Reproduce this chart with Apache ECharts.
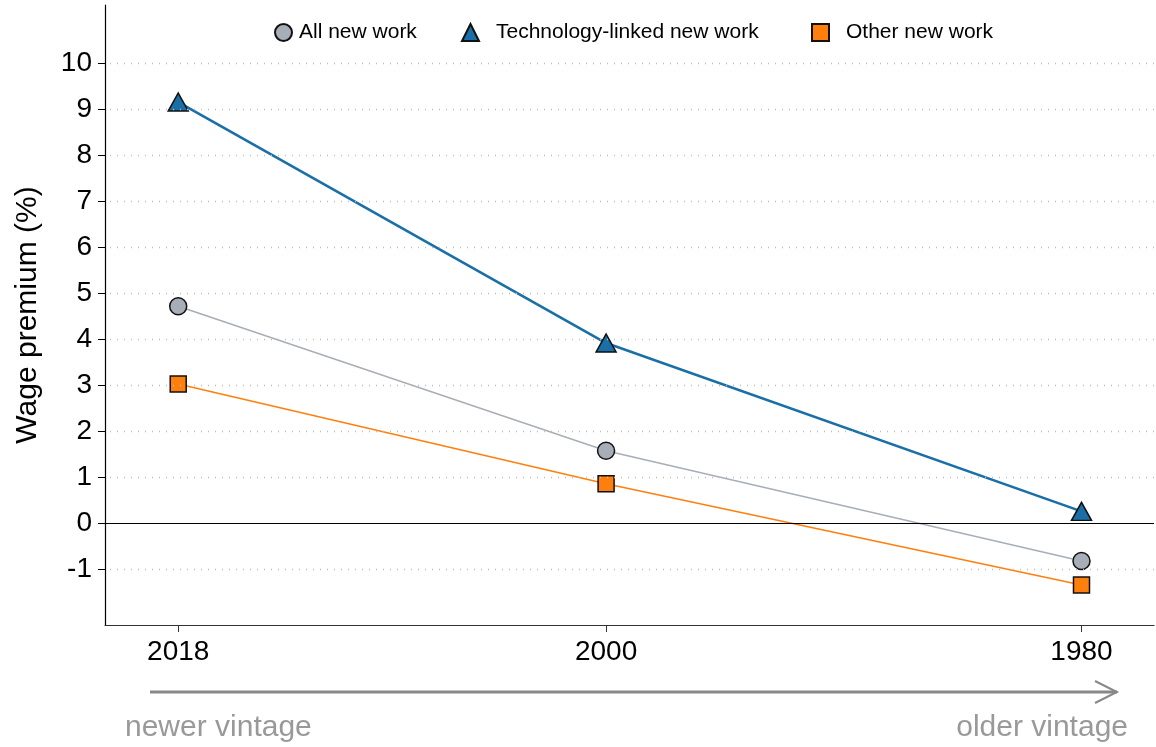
<!DOCTYPE html>
<html><head><meta charset="utf-8">
<script src="https://cdn.jsdelivr.net/npm/echarts@6/dist/echarts.min.js"></script>
<style>html,body{margin:0;padding:0;background:#fff}#c{width:1156px;height:747px}</style>
</head><body><div id="c"></div>
<script>
const years = [2018, 2000, 1980];
const seriesNames = ['All new work', 'Technology-linked new work', 'Other new work'];
const allNew = [4.72, 1.58, -0.82];
const techNew = [9.16, 3.92, 0.26];
const otherNew = [3.03, 0.86, -1.34];
const yTicks = [-1, 0, 1, 2, 3, 4, 5, 6, 7, 8, 9, 10];
const xTicks = [2018, 2000, 1980];

const FONT = '"Liberation Sans", Arial, sans-serif';
const pairs = arr => years.map((y, i) => [y, arr[i]]);

const legendBase = (name, icon, left, pad) => ({
  top: 17, left: left, itemWidth: 17, itemHeight: 17,
  textStyle: { fontSize: 21, color: '#000', fontFamily: FONT, padding: [0, 0, 0, pad] },
  data: [{ name: name, icon: icon }]
});

const chart = echarts.init(document.getElementById('c'));
chart.setOption({
  animation: false,
  textStyle: { fontFamily: FONT },
  grid: { left: 105, right: 2, top: 5, bottom: 122, containLabel: false, outerBoundsMode: 'none' },
  legend: [
    legendBase(seriesNames[0], 'circle', 269, 2),
    legendBase(seriesNames[1], 'triangle', 456, 12),
    legendBase(seriesNames[2], 'rect', 806, 12)
  ],
  xAxis: {
    type: 'value', inverse: true, min: 1976.95, max: 2021.08,
    axisLine: { onZero: false, lineStyle: { color: '#333', width: 1.2 } },
    axisTick: { show: true, length: 7, customValues: xTicks, lineStyle: { color: '#333' } },
    axisLabel: { customValues: xTicks, fontSize: 28, color: '#000', margin: 13, fontFamily: FONT, formatter: v => String(v) },
    splitLine: { show: false }
  },
  yAxis: {
    type: 'value', min: -2.21, max: 11.27,
    name: 'Wage premium (%)', nameLocation: 'middle', nameRotate: 90, nameGap: 62,
    nameTextStyle: { fontSize: 30, color: '#000', fontFamily: FONT },
    axisLine: { show: true, onZero: false, lineStyle: { color: '#000', width: 1.2 } },
    axisTick: { show: true, length: 7, customValues: yTicks, lineStyle: { color: '#000' } },
    axisLabel: { customValues: yTicks, fontSize: 28, color: '#000', margin: 13, fontFamily: FONT, formatter: v => String(v) },
    splitLine: { show: false }
  },
  series: [
    {
      name: seriesNames[0], type: 'line', data: pairs(allNew), z: 3,
      symbol: 'circle', symbolSize: 17,
      lineStyle: { color: '#a8aeb8', width: 1.6 },
      itemStyle: { color: '#a8aeb8', borderColor: '#111', borderWidth: 1.5 },
      markLine: {
        silent: true, symbol: 'none', label: { show: false }, animation: false,
        lineStyle: { color: '#bdbdbd', type: [1, 6], width: 1.3 },
        data: yTicks.filter(v => v !== 0).map(v => ({ yAxis: v }))
          .concat([{ yAxis: 0, lineStyle: { color: '#000', type: 'solid', width: 1.2 } }])
      }
    },
    {
      name: seriesNames[1], type: 'line', data: pairs(techNew), z: 4,
      symbol: 'triangle', symbolSize: [20, 18],
      lineStyle: { color: '#1a6fa6', width: 2.6 },
      itemStyle: { color: '#1a6fa6', borderColor: '#111', borderWidth: 1.5 }
    },
    {
      name: seriesNames[2], type: 'line', data: pairs(otherNew), z: 3,
      symbol: 'rect', symbolSize: 16,
      lineStyle: { color: '#ff7f0e', width: 1.6 },
      itemStyle: { color: '#ff7f0e', borderColor: '#111', borderWidth: 1.5 }
    }
  ],
  graphic: [
    { type: 'line', shape: { x1: 150, y1: 692, x2: 1117, y2: 692 }, style: { stroke: '#888', lineWidth: 3 } },
    { type: 'polyline', shape: { points: [[1095, 681], [1117, 692], [1095, 703]] }, style: { stroke: '#888', lineWidth: 2, fill: null } },
    { type: 'text', left: 125, top: 713, style: { text: 'newer vintage', fontSize: 30, fill: '#999', fontFamily: FONT } },
    { type: 'text', right: 28, top: 713, style: { text: 'older vintage', fontSize: 30, fill: '#999', fontFamily: FONT } }
  ]
});
</script></body></html>
